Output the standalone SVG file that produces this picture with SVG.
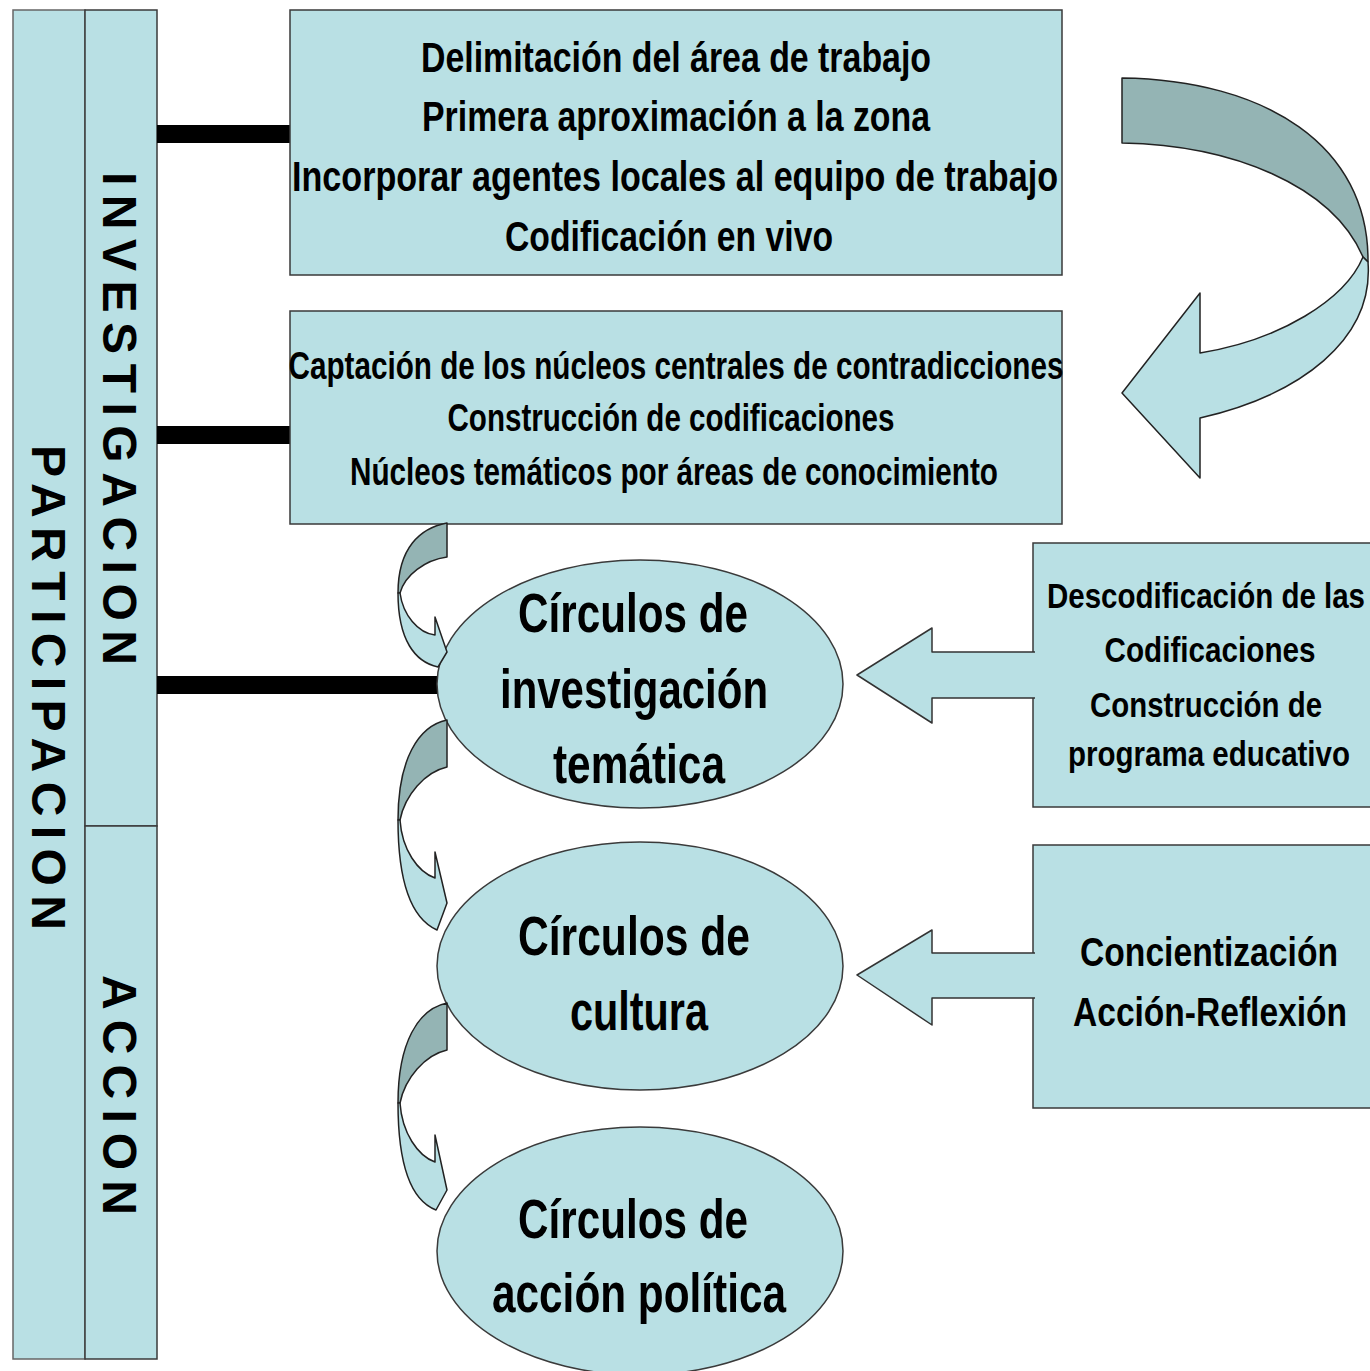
<svg xmlns="http://www.w3.org/2000/svg" width="1370" height="1371" viewBox="0 0 1370 1371">
<style>
.box{fill:#b9e0e4;stroke:#3a3a3a;stroke-width:1.5}
.dark{fill:#94b4b4;stroke:#222;stroke-width:1.5;stroke-linejoin:round}
.light{fill:#b9e0e4;stroke:#222;stroke-width:1.5;stroke-linejoin:round}
.bar{stroke:#000;stroke-width:18}
.t{font-family:"Liberation Sans Narrow","Liberation Sans",Arial,sans-serif;font-weight:bold;fill:#000;text-anchor:middle}
.v{font-family:"Liberation Sans",Arial,sans-serif;font-weight:bold;fill:#000;font-size:48px}
</style>
<rect width="1370" height="1371" fill="#fff"/>

<g id="participacion">
<rect class="box" x="13" y="10" width="72" height="1349" style="stroke:#666"/>
<text class="v" transform="translate(32,445) rotate(90)" textLength="485">PARTICIPACION</text>
</g>
<g id="investigacion">
<rect class="box" x="85" y="10" width="72" height="816"/>
<text class="v" transform="translate(103,172) rotate(90)" textLength="493">INVESTIGACION</text>
</g>
<g id="accion">
<rect class="box" x="85" y="826" width="72" height="533"/>
<text class="v" transform="translate(103,975) rotate(90)" textLength="240">ACCION</text>
</g>

<g id="connectors">
<line class="bar" x1="157" y1="134" x2="291" y2="134"/>
<line class="bar" x1="157" y1="435" x2="291" y2="435"/>
<line class="bar" x1="157" y1="685" x2="440" y2="685"/>
</g>

<g id="box1">
<rect class="box" x="290" y="10" width="772" height="265"/>
<g class="t" style="font-size:42px">
<text x="676" y="72" textLength="510" lengthAdjust="spacingAndGlyphs">Delimitación del área de trabajo</text>
<text x="676" y="131" textLength="508" lengthAdjust="spacingAndGlyphs">Primera aproximación a la zona</text>
<text x="675" y="191" textLength="766" lengthAdjust="spacingAndGlyphs">Incorporar agentes locales al equipo de trabajo</text>
<text x="669" y="251" textLength="328" lengthAdjust="spacingAndGlyphs">Codificación en vivo</text>
</g>
</g>

<g id="box2">
<rect class="box" x="290" y="311" width="772" height="213"/>
<g class="t" style="font-size:38px">
<text x="676" y="379" textLength="775" lengthAdjust="spacingAndGlyphs">Captación de los núcleos centrales de contradicciones</text>
<text x="671" y="431" textLength="447" lengthAdjust="spacingAndGlyphs">Construcción de codificaciones</text>
<text x="674" y="485" textLength="648" lengthAdjust="spacingAndGlyphs">Núcleos temáticos por áreas de conocimiento</text>
</g>
</g>

<g id="loop-arrow">
<path class="dark" d="M1122,78 C1265,80 1369,145 1368,262 L1363,257 C1332,185 1232,145 1122,143 Z"/>
<path class="light" d="M1363,257 C1345,300 1280,340 1200,353 L1200,293 L1122,393 L1200,478 L1200,418 C1300,395 1374,340 1368,262 Z"/>
</g>

<g id="ellipse1">
<ellipse class="box" cx="640" cy="684" rx="203" ry="124"/>
<g class="t" style="font-size:55px">
<text x="633" y="632" textLength="230" lengthAdjust="spacingAndGlyphs">Círculos de</text>
<text x="634" y="708" textLength="268" lengthAdjust="spacingAndGlyphs">investigación</text>
<text x="639" y="783" textLength="172" lengthAdjust="spacingAndGlyphs">temática</text>
</g>
</g>
<g id="ellipse2">
<ellipse class="box" cx="640" cy="966" rx="203" ry="124"/>
<g class="t" style="font-size:55px">
<text x="634" y="955" textLength="232" lengthAdjust="spacingAndGlyphs">Círculos de</text>
<text x="639" y="1030" textLength="138" lengthAdjust="spacingAndGlyphs">cultura</text>
</g>
</g>
<g id="ellipse3">
<ellipse class="box" cx="640" cy="1251" rx="203" ry="124"/>
<g class="t" style="font-size:55px">
<text x="633" y="1238" textLength="230" lengthAdjust="spacingAndGlyphs">Círculos de</text>
<text x="639" y="1312" textLength="294" lengthAdjust="spacingAndGlyphs">acción política</text>
</g>
</g>

<g id="small-arrows">
<path class="dark" d="M447,523 C420,528 398,548 398,593 L400,593 C405,575 425,560 447,557 Z"/>
<path class="light" d="M400,593 C403,615 418,633 435,635 L435,617 L447,652 L438,667 C415,662 398,640 398,593 Z"/>
<path class="dark" d="M447,720 C418,726 398,760 398,820 L400,820 C405,795 425,772 447,767 Z"/>
<path class="light" d="M400,820 C402,850 418,872 435,878 L435,852 L447,903 L437,930 C410,918 398,880 398,820 Z"/>
<path class="dark" d="M447,1003 C418,1009 398,1043 398,1103 L400,1103 C405,1078 425,1055 447,1050 Z"/>
<path class="light" d="M400,1103 C402,1133 418,1156 435,1162 L435,1135 L447,1190 L436,1210 C410,1200 398,1163 398,1103 Z"/>
</g>

<g id="box3">
<rect class="box" x="1033" y="543" width="338" height="264"/>
<g class="t" style="font-size:35px">
<text x="1206" y="608" textLength="318" lengthAdjust="spacingAndGlyphs">Descodificación de las</text>
<text x="1210" y="662" textLength="211" lengthAdjust="spacingAndGlyphs">Codificaciones</text>
<text x="1206" y="717" textLength="232" lengthAdjust="spacingAndGlyphs">Construcción de</text>
<text x="1209" y="766" textLength="282" lengthAdjust="spacingAndGlyphs">programa educativo</text>
</g>
</g>
<g id="box4">
<rect class="box" x="1033" y="845" width="338" height="263"/>
<g class="t" style="font-size:40px">
<text x="1209" y="966" textLength="258" lengthAdjust="spacingAndGlyphs">Concientización</text>
<text x="1210" y="1026" textLength="274" lengthAdjust="spacingAndGlyphs">Acción-Reflexión</text>
</g>
</g>

<g id="block-arrows">
<path class="light" d="M1035,652 L932,652 L932,628 L857,675 L932,723 L932,698 L1035,698" style="stroke:#333"/>
<path class="light" d="M1035,953 L932,953 L932,930 L857,975 L932,1025 L932,998 L1035,998" style="stroke:#333"/>
</g>
</svg>
